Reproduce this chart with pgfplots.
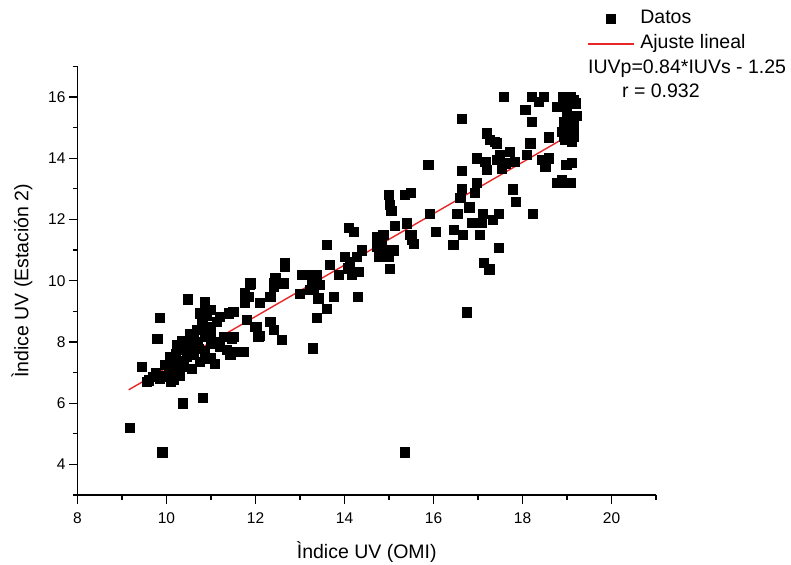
\documentclass[border=0pt]{standalone}
\usepackage{fontspec}
\setmainfont{Liberation Sans}
\usepackage{pgfplots}
\pgfplotsset{compat=1.18}
\definecolor{fitred}{RGB}{232,40,40}
\pgfplotstableread{
x y
9.18 5.2
9.9 4.4
10.37 6.0
10.82 6.17
15.36 4.4
9.85 8.78
9.79 8.1
10.48 9.4
10.86 9.3
9.45 7.2
9.55 6.7
9.7 6.87
13.28 7.8
16.75 8.97
10.23 7.9
10.08 7.52
9.97 7.25
10.0 6.87
10.15 6.76
10.27 7.03
10.38 7.19
10.45 7.52
10.53 8.28
10.68 8.39
10.79 8.72
10.75 8.94
10.98 9.05
10.87 8.17
10.71 7.79
10.57 7.14
10.75 7.36
10.98 7.47
11.09 7.3
10.98 8.5
11.13 8.66
11.2 8.83
11.39 8.94
11.5 8.99
11.09 7.96
11.2 7.85
11.35 7.74
11.43 7.58
11.47 8.12
11.28 8.17
11.73 7.68
11.76 9.27
11.76 9.6
10.1 7.3
10.2 7.6
10.3 7.4
10.05 7.1
10.15 7.0
9.95 6.9
10.1 6.7
10.3 6.9
10.2 7.2
10.25 7.8
10.6 8.1
10.65 7.9
10.8 8.55
10.9 8.4
11.0 8.0
10.7 8.0
9.6 6.75
9.75 7.0
9.85 6.8
10.4 7.75
10.5 7.9
10.35 8.05
10.6 7.6
10.85 7.7
11.0 8.25
11.15 8.0
10.9 8.85
11.88 9.92
12.4 9.92
12.62 9.92
11.84 9.48
12.1 9.27
12.33 9.48
11.8 8.72
12.03 8.5
12.33 8.66
12.4 8.39
12.59 8.07
12.06 8.17
13.0 9.59
13.22 9.7
15.02 12.48
15.0 12.8
15.05 12.3
14.09 11.72
14.2 11.6
13.6 11.19
12.65 10.57
12.65 10.45
14.72 11.44
14.87 11.5
15.13 11.79
15.4 11.88
15.92 12.2
15.51 11.5
15.55 11.22
16.05 11.6
14.72 11.11
14.84 11.22
14.95 11.0
14.76 10.79
14.98 10.79
15.1 11.0
15.02 10.39
14.39 11.0
14.01 10.79
14.12 10.62
14.27 10.79
14.08 10.41
14.31 10.3
14.16 10.19
13.67 10.52
13.86 10.19
14.3 9.48
13.75 9.48
13.04 10.19
13.19 10.19
13.38 10.19
13.26 9.97
13.45 9.86
13.3 9.7
13.41 9.43
13.6 9.1
13.38 8.8
12.44 10.08
12.4 9.81
12.34 9.48
11.86 9.89
11.8 9.48
12.09 9.28
11.49 8.99
11.99 8.5
12.09 8.2
12.31 8.66
11.5 8.17
11.5 7.68
17.57 16.0
18.21 16.0
18.47 16.0
18.36 15.85
19.07 16.0
19.14 15.9
18.77 15.69
18.99 15.69
18.06 15.6
16.63 15.29
18.21 15.2
19.22 15.39
18.99 15.42
18.92 15.2
19.07 15.15
18.88 14.88
19.03 14.82
19.14 14.71
18.96 14.6
19.1 14.55
18.92 14.71
18.58 14.69
18.17 14.49
17.2 14.82
17.27 14.6
17.38 14.55
17.42 14.49
17.72 14.22
17.49 14.11
17.42 13.95
17.61 13.84
17.83 13.89
17.53 13.67
16.97 14.0
17.16 13.89
17.2 13.62
18.09 14.11
18.43 13.95
18.58 14.0
18.51 13.73
18.98 13.78
18.77 13.19
19.07 13.19
18.88 13.29
18.8 13.19
19.03 13.19
17.78 12.99
17.85 12.59
16.63 13.6
16.97 13.19
16.93 12.88
16.63 13.0
15.88 13.78
16.6 12.7
16.8 12.4
15.36 12.8
15.49 12.88
15.91 12.18
15.39 11.9
16.53 12.18
17.1 12.18
17.46 12.18
17.33 11.99
17.08 11.9
16.85 11.9
18.23 12.18
15.47 11.5
15.5 11.33
16.46 11.68
16.65 11.5
16.44 11.19
17.04 11.5
17.47 11.08
17.13 10.59
17.25 10.38
19.0 15.55
19.05 15.3
18.9 16.0
19.2 15.8
19.15 15.05
18.96 14.9
19.1 13.85
}\datos
\begin{document}
\begin{tikzpicture}
\useasboundingbox (-77.5pt,-69pt) rectangle (713.5pt,495pt);
\begin{axis}[
  at={(0pt,0pt)}, anchor=south west,
  scale only axis, width=578.5pt, height=428.6pt,
  xmin=8, xmax=21, ymin=3, ymax=17,
  axis lines=left, axis line style={-, line width=1.2pt},
  xtick={8,10,...,20}, ytick={4,6,...,16},
  minor xtick={9,11,...,21}, minor ytick={3,5,...,17},
  tick align=outside,
  major tick length=8.5pt, minor tick length=4.5pt,
  every tick/.style={black, line width=1.2pt},
  ticklabel style={font=\fontsize{15.5}{18}\selectfont},
  xticklabel style={yshift=-6pt},
  /pgf/number format/assume math mode=true,
  label style={font=\fontsize{19.5}{23}\selectfont},
  xlabel={Ìndice UV (OMI)},
  ylabel={Ìndice UV (Estación 2)},
  xlabel style={at={(axis description cs:0.5,-0.134)}, anchor=center},
  ylabel style={at={(axis description cs:-0.096,0.5)}, anchor=center},
  clip=false,
  legend cell align=left,
  legend style={at={(axis description cs:0.8807,1.1316)}, anchor=north west,
    draw=none, fill=none, inner sep=0pt, outer sep=0pt,
    row sep=7pt, column sep=6pt,
    font=\fontsize{19.5}{23}\selectfont,
    nodes={inner sep=0pt, text height=14pt, text depth=4pt}},
]
\addplot[only marks, mark=square*, mark size=4.6pt,
  mark options={fill=black, draw=black, line width=0.3pt},
  legend image code/.code={\draw[only marks, mark=square*, mark size=4.6pt, fill=black] plot coordinates {(23pt,0pt)};}]
  table[x=x, y=y] {\datos};
\addlegendentry{Datos}
\addplot[fitred, line width=1.4pt,
  legend image code/.code={\draw[fitred, line width=1.4pt] (0pt,0pt) -- (46pt,0pt);}]
  coordinates {(9.15,6.436) (19.22,14.895)};
\addlegendentry{Ajuste lineal}
\node[anchor=base west, inner sep=0pt, font=\fontsize{19.5}{23}\selectfont]
  at (axis description cs:0.8825,0.9839) {IUVp=0.84*IUVs - 1.25};
\node[anchor=base west, inner sep=0pt, font=\fontsize{19.5}{23}\selectfont]
  at (axis description cs:0.9412,0.928) {r = 0.932};
\end{axis}
\end{tikzpicture}
\end{document}
